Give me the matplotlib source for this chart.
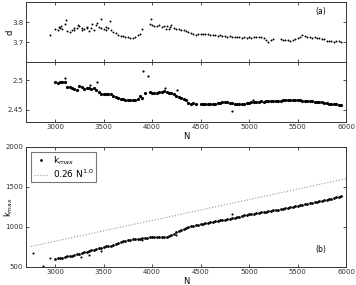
import numpy as np
import matplotlib
matplotlib.use("Agg")
import matplotlib.pyplot as plt

# N grid used for the main series (step 25)
n_grid = np.arange(3000, 5975, 25)

d_vals = [3.765, 3.760, 3.772, 3.768, 3.790, 3.755, 3.752, 3.760, 3.762, 3.770,
          3.783, 3.760, 3.765, 3.772, 3.758, 3.770, 3.762, 3.785, 3.775, 3.770,
          3.768, 3.760, 3.772, 3.762, 3.752, 3.745, 3.738, 3.733, 3.730, 3.728,
          3.725, 3.722, 3.722, 3.728, 3.735, 3.742, 3.765, np.nan, np.nan, 3.790,
          3.785, 3.782, 3.780, 3.785, 3.778, 3.783, 3.780, 3.768, 3.785, 3.772,
          3.765, 3.768, 3.760, 3.762, 3.755, 3.750, 3.748, 3.742, 3.735, 3.742,
          3.742, 3.740, 3.743, 3.740, 3.738, 3.736, 3.738, 3.733, 3.735, 3.730,
          3.732, 3.728, 3.730, 3.726, 3.728, 3.725, 3.726, 3.724, 3.725, 3.723,
          3.726, 3.724, 3.727, 3.725, 3.728, 3.726, 3.720, 3.710, 3.702, 3.712,
          3.718, np.nan, np.nan, 3.715, 3.712, 3.713, 3.710, 3.708, 3.712, 3.718,
          3.722, 3.726, 3.735, 3.730, 3.727, 3.726, 3.724, 3.725, 3.722, 3.722,
          3.718, 3.715, 3.708, 3.705, 3.706, 3.704, 3.706, 3.705, 3.704]
d_extra_n = [2945, 3040, 3060, 3110, 3190, 3240, 3280, 3330, 3380, 3430, 3470, 3520, 3570, 3990, 4140, 4190]
d_extra = [3.736, 3.775, 3.782, 3.810, 3.770, 3.788, 3.772, 3.776, 3.790, 3.795, 3.818, 3.775, 3.805, 3.815, 3.768, 3.776]

g_vals = [2.4962, 2.4958, 2.4965, 2.4960, 2.4962, 2.4885, 2.4880, 2.4860, 2.4845, 2.4840,
          2.4900, 2.4880, 2.4850, 2.4860, 2.4870, 2.4855, 2.4860, 2.4840, 2.4800, 2.4770,
          2.4765, 2.4770, 2.4760, 2.4765, 2.4740, 2.4720, 2.4700, 2.4690, 2.4675, 2.4670,
          2.4665, 2.4668, 2.4670, 2.4672, 2.4690, 2.4725, 2.4700, 2.4780, np.nan, 2.4800,
          2.4790, 2.4785, 2.4790, 2.4795, 2.4800, 2.4815, 2.4805, 2.4790, 2.4780, 2.4760,
          2.4740, 2.4720, 2.4700, 2.4680, 2.4665, 2.4620, 2.4605, 2.4610, 2.4603, np.nan,
          2.4602, 2.4600, 2.4598, 2.4600, 2.4605, 2.4602, 2.4605, 2.4610, 2.4618, 2.4625,
          2.4632, 2.4625, 2.4618, 2.4610, 2.4605, 2.4600, 2.4598, 2.4602, 2.4605, 2.4610,
          2.4615, 2.4625, 2.4632, 2.4630, 2.4640, 2.4645, 2.4638, 2.4645, 2.4650, 2.4648,
          2.4645, 2.4652, 2.4655, 2.4650, 2.4658, 2.4662, 2.4665, 2.4668, 2.4672, 2.4665,
          2.4668, 2.4660, 2.4652, 2.4648, 2.4645, 2.4642, 2.4648, 2.4640, 2.4630, 2.4625,
          2.4628, 2.4615, 2.4610, 2.4605, 2.4600, 2.4595, 2.4592, 2.4588, 2.4580]
g_extra_n = [3102, 3359, 3428, 3909, 3961, 4133, 4253, 4821, 5044]
g_extra = [2.5038, 2.4920, 2.4973, 2.5146, 2.5070, 2.4860, 2.4840, 2.4473, 2.4670]

kmax_vals = [600, 603, 607, 612, 620, 628, 633, 640, 648, 656,
             664, 672, 682, 690, 697, 703, 710, 718, 728, 738,
             748, 753, 758, 763, 770, 780, 792, 805, 816, 826,
             833, 838, 842, 846, 850, 852, 855, 860, 864, 867,
             868, 869, 870, 871, 872, 874, 876, 885, 900, 915,
             932, 948, 962, 975, 988, 998, 1008, 1015, 1022, 1027,
             1032, 1038, 1044, 1050, 1056, 1062, 1068, 1073, 1079, 1085,
             1090, 1096, 1102, 1108, 1114, 1120, 1127, 1135, 1142, 1148,
             1154, 1160, 1165, 1170, 1175, 1180, 1185, 1190, 1195, 1200,
             1205, 1210, 1215, 1220, 1226, 1232, 1238, 1244, 1250, 1256,
             1262, 1268, 1275, 1280, 1286, 1292, 1298, 1303, 1309, 1316,
             1322, 1330, 1338, 1345, 1352, 1360, 1368, 1375, 1383]
kmax_extra_n = [2775, 2879, 2947, 3263, 3353, 3470, 3900, 4250, 4821]
kmax_extra = [675, 508, 605, 625, 646, 696, 840, 895, 1155]

fit_n = [2750, 6000]
fit_k = [753, 1600]

xticks = [3000, 3500, 4000, 4500, 5000, 5500, 6000]

plt.rcParams['font.family'] = 'DejaVu Sans'
fig = plt.figure(figsize=(3.56, 2.85), dpi=100)
ax1 = fig.add_axes([0.073, 0.7814, 0.899, 0.2105])
ax2 = fig.add_axes([0.073, 0.573, 0.899, 0.2084])
ax3 = fig.add_axes([0.073, 0.0642, 0.899, 0.421])

dot = dict(linestyle='none', marker='o', color='black', markeredgewidth=0)
ax1.plot(n_grid, d_vals, markersize=1.4, **dot)
ax1.plot(d_extra_n, d_extra, markersize=1.4, **dot)
ax2.plot(n_grid, g_vals, markersize=2.3, **dot)
ax2.plot(g_extra_n, g_extra, markersize=1.6, **dot)
ax3.plot(n_grid, kmax_vals, markersize=2.0, label='k$_{max}$', **dot)
ax3.plot(kmax_extra_n, kmax_extra, markersize=1.5, **dot)
ax3.plot(fit_n, fit_k, linestyle=':', color='#999999', linewidth=0.8, label='0.26 N$^{1.0}$')

ax1.set_ylim(3.6, 3.9)
ax1.set_yticks([3.7, 3.8])
ax2.set_ylim(2.43, 2.53)
ax2.set_yticks([2.45, 2.5])
ax2.set_yticklabels(['2.45', '2.5'])
ax3.set_ylim(500, 2000)
ax3.set_yticks([500, 1000, 1500, 2000])

for ax in (ax1, ax2, ax3):
    ax.set_xlim(2700, 6000)
    ax.set_xticks(xticks)
    ax.tick_params(direction='in', top=True, right=True, length=2, width=0.6,
                   labelsize=5, pad=2, colors='#333333')
    for s in ax.spines.values():
        s.set_linewidth(0.7)
        s.set_color('#333333')
ax1.set_xticklabels([])

ax1.set_ylabel('d', fontsize=6)
ax1.yaxis.set_label_coords(-0.035, 0.5)
ax2.set_xlabel('N', fontsize=6, labelpad=1)
ax3.set_xlabel('N', fontsize=6, labelpad=1)
ax3.set_ylabel('k$_{max}$', fontsize=6)
ax3.yaxis.set_label_coords(-0.035, 0.5)

ax1.text(0.905, 0.8, '(a)', transform=ax1.transAxes, fontsize=5.5)
ax3.text(0.905, 0.12, '(b)', transform=ax3.transAxes, fontsize=5.5)

leg = ax3.legend(loc='upper left', fontsize=6.5, frameon=True, fancybox=False,
                 borderpad=0.25, handlelength=1.6, labelspacing=0.1,
                 handletextpad=0.5, borderaxespad=0.6, markerscale=1.0)
leg.get_frame().set_edgecolor('#555555')
leg.get_frame().set_linewidth(0.8)

fig.savefig('out.png', dpi=100)
